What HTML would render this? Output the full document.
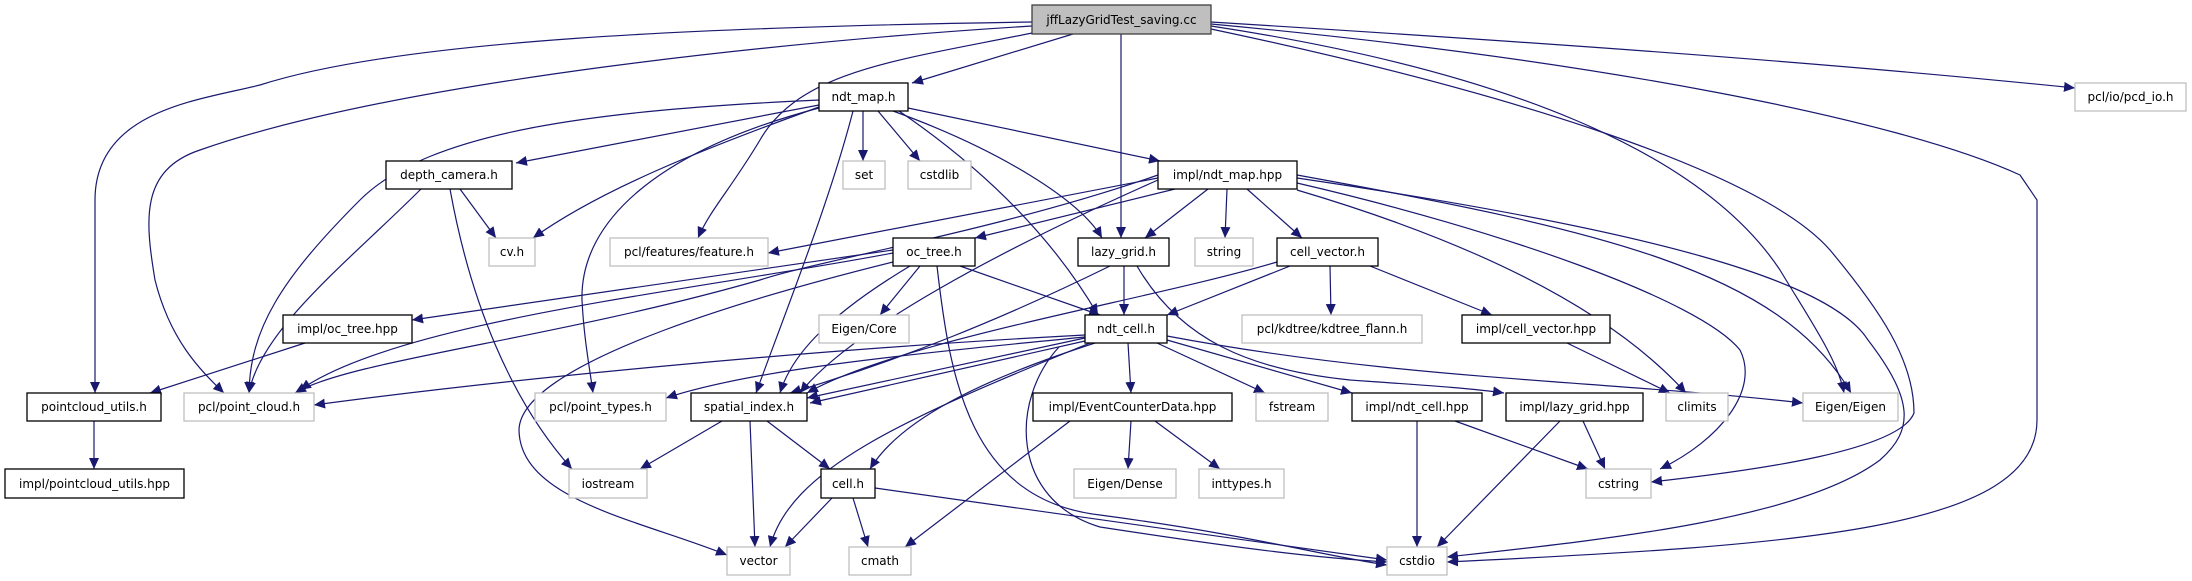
<!DOCTYPE html>
<html><head><meta charset="utf-8"><style>
html,body{margin:0;padding:0;background:#fff;}
svg{display:block;}
text{font-family:"DejaVu Sans","Liberation Sans",sans-serif;font-size:12px;fill:#000;}
.e{fill:none;stroke:#191970;stroke-width:1.2;marker-end:url(#a);}
.b{fill:#fff;stroke:#000;stroke-width:1.3;}
.g{fill:#fff;stroke:#bfbfbf;stroke-width:1.3;}
</style></head><body>
<svg width="2192" height="581" viewBox="0 0 2192 581" xmlns="http://www.w3.org/2000/svg">
<defs><marker id="a" markerUnits="userSpaceOnUse" markerWidth="12" markerHeight="10" refX="11" refY="5" orient="auto"><path d="M0,0 L11,5 L0,10 z" fill="#191970"/></marker></defs>
<g>
<!-- jff -->
<path class="e" d="M1032,22 C700,27 400,40 260,85 C200,100 95,110 95,200 L95,393"/>
<path class="e" d="M1032,26 C800,40 400,80 200,150 C140,170 145,220 155,280 C170,340 200,370 224,393"/>
<path class="e" d="M1032,33 C900,60 800,70 760,140 C730,190 710,210 698,238"/>
<path class="e" d="M1073,34 L912,83"/>
<path class="e" d="M1121,34 L1121,238"/>
<path class="e" d="M1211,22 C1500,40 1800,60 2075,88"/>
<path class="e" d="M1211,24 C1600,60 1900,120 2020,175 L2037,200 L2037,420 C2037,530 1800,545 1447,562"/>
<path class="e" d="M1211,26 C1500,70 1700,150 1780,270 C1810,320 1838,360 1844,393"/>
<path class="e" d="M1211,29 C1500,90 1760,170 1830,250 C1880,310 1914,360 1914,413 C1900,450 1760,470 1651,482"/>
<!-- ndt_map.h -->
<path class="e" d="M819,105 L516,163"/>
<path class="e" d="M819,107 C700,150 600,190 533,238"/>
<path class="e" d="M819,100 C600,110 430,130 360,200 C280,280 250,330 249,393"/>
<path class="e" d="M819,108 C660,150 580,220 582,300 C584,340 590,370 593,393"/>
<path class="e" d="M853,111 C830,200 790,300 756,393"/>
<path class="e" d="M863,111 L863,161"/>
<path class="e" d="M878,111 L920,161"/>
<path class="e" d="M893,111 C1000,150 1080,200 1102,238"/>
<path class="e" d="M899,111 C1000,180 1060,250 1098,315"/>
<path class="e" d="M908,108 L1160,161"/>
<!-- depth_camera.h -->
<path class="e" d="M460,189 L496,238"/>
<path class="e" d="M421,189 C350,260 260,330 249,393"/>
<path class="e" d="M450,189 C470,300 510,400 572,469"/>
<!-- impl/ndt_map.hpp -->
<path class="e" d="M1158,178 L768,253"/>
<path class="e" d="M1175,189 L975,238"/>
<path class="e" d="M1208,189 L1145,238"/>
<path class="e" d="M1227,189 L1225,238"/>
<path class="e" d="M1247,189 L1302,238"/>
<path class="e" d="M1158,175 C1000,230 820,260 760,280 C550,340 350,360 295,393"/>
<path class="e" d="M1158,180 C1000,250 850,330 800,393"/>
<path class="e" d="M1297,190 C1500,250 1620,320 1686,393"/>
<path class="e" d="M1297,183 C1500,230 1700,300 1740,350 C1760,390 1720,440 1660,469"/>
<path class="e" d="M1297,175 C1600,230 1780,270 1851,393"/>
<path class="e" d="M1297,178 C1650,230 1830,280 1868,340 C1914,400 1914,430 1880,460 C1800,520 1600,540 1447,557"/>
<!-- oc_tree.h -->
<path class="e" d="M893,250 L412,320"/>
<path class="e" d="M893,253 C700,290 400,320 300,390"/>
<path class="e" d="M893,262 C780,290 520,360 519,430 C520,500 640,520 727,555"/>
<path class="e" d="M920,266 L880,315"/>
<path class="e" d="M910,266 C820,320 790,360 780,393"/>
<path class="e" d="M960,266 L1100,315"/>
<path class="e" d="M937,266 C950,380 970,500 1100,515 C1250,535 1320,555 1387,565"/>
<!-- lazy_grid.h -->
<path class="e" d="M1124,266 L1124,315"/>
<path class="e" d="M1110,266 C1000,320 900,360 790,393"/>
<path class="e" d="M1137,266 C1180,340 1250,370 1350,380 C1420,385 1470,388 1504,393"/>
<!-- cell_vector.h -->
<path class="e" d="M1290,266 L1167,315"/>
<path class="e" d="M1277,262 C1150,300 900,340 807,393"/>
<path class="e" d="M1330,266 L1331,315"/>
<path class="e" d="M1370,266 L1492,315"/>
<!-- misc -->
<path class="e" d="M305,343 L150,393"/>
<path class="e" d="M94,421 L94,469"/>
<!-- ndt_cell.h -->
<path class="e" d="M1085,335 C800,350 500,380 314,405"/>
<path class="e" d="M1085,337 C900,355 750,370 666,398"/>
<path class="e" d="M1085,338 L807,398"/>
<path class="e" d="M1085,341 L810,403"/>
<path class="e" d="M1090,343 C900,420 790,470 770,547"/>
<path class="e" d="M1095,343 C980,380 900,420 870,469"/>
<path class="e" d="M1059,347 C1010,400 1010,500 1100,527 C1250,550 1320,558 1387,562"/>
<path class="e" d="M1128,343 L1131,393"/>
<path class="e" d="M1157,343 L1265,393"/>
<path class="e" d="M1167,340 L1352,393"/>
<path class="e" d="M1167,336 C1400,380 1600,380 1803,403"/>
<!-- spatial_index.h -->
<path class="e" d="M722,421 L640,469"/>
<path class="e" d="M750,421 L755,547"/>
<path class="e" d="M767,421 L830,469"/>
<!-- cell.h -->
<path class="e" d="M832,498 L785,547"/>
<path class="e" d="M853,498 L868,547"/>
<path class="e" d="M875,488 L1387,560"/>
<!-- others -->
<path class="e" d="M1070,421 L905,547"/>
<path class="e" d="M1131,421 L1128,469"/>
<path class="e" d="M1155,421 L1220,469"/>
<path class="e" d="M1417,421 L1417,547"/>
<path class="e" d="M1455,421 L1588,469"/>
<path class="e" d="M1560,421 L1437,547"/>
<path class="e" d="M1583,421 L1605,469"/>
<path class="e" d="M1567,343 L1670,393"/>
</g>
<g>
<rect x="1032" y="5" width="179" height="29" fill="#bfbfbf" stroke="#404040" stroke-width="1.3"/>
<text x="1121.5" y="24" text-anchor="middle">jffLazyGridTest_saving.cc</text>

<rect class="b" x="819" y="83" width="89" height="28"/><text x="863.5" y="101" text-anchor="middle">ndt_map.h</text>
<rect class="g" x="2075" y="83" width="111" height="28"/><text x="2130.5" y="101" text-anchor="middle">pcl/io/pcd_io.h</text>

<rect class="b" x="386" y="161" width="126" height="28"/><text x="449" y="179" text-anchor="middle">depth_camera.h</text>
<rect class="g" x="843" y="161" width="42" height="28"/><text x="864" y="179" text-anchor="middle">set</text>
<rect class="g" x="908" y="161" width="63" height="28"/><text x="939.5" y="179" text-anchor="middle">cstdlib</text>
<rect class="b" x="1158" y="161" width="139" height="28"/><text x="1227.5" y="179" text-anchor="middle">impl/ndt_map.hpp</text>

<rect class="g" x="489" y="238" width="46" height="28"/><text x="512" y="256" text-anchor="middle">cv.h</text>
<rect class="g" x="610" y="238" width="158" height="28"/><text x="689" y="256" text-anchor="middle">pcl/features/feature.h</text>
<rect class="b" x="893" y="238" width="82" height="28"/><text x="934" y="256" text-anchor="middle">oc_tree.h</text>
<rect class="b" x="1078" y="238" width="91" height="28"/><text x="1123.5" y="256" text-anchor="middle">lazy_grid.h</text>
<rect class="g" x="1195" y="238" width="58" height="28"/><text x="1224" y="256" text-anchor="middle">string</text>
<rect class="b" x="1277" y="238" width="101" height="28"/><text x="1327.5" y="256" text-anchor="middle">cell_vector.h</text>

<rect class="b" x="283" y="315" width="129" height="28"/><text x="347.5" y="333" text-anchor="middle">impl/oc_tree.hpp</text>
<rect class="g" x="819" y="315" width="90" height="28"/><text x="864" y="333" text-anchor="middle">Eigen/Core</text>
<rect class="b" x="1085" y="315" width="82" height="28"/><text x="1126" y="333" text-anchor="middle">ndt_cell.h</text>
<rect class="g" x="1242" y="315" width="180" height="28"/><text x="1332" y="333" text-anchor="middle">pcl/kdtree/kdtree_flann.h</text>
<rect class="b" x="1462" y="315" width="148" height="28"/><text x="1536" y="333" text-anchor="middle">impl/cell_vector.hpp</text>

<rect class="b" x="27" y="393" width="134" height="28"/><text x="94" y="411" text-anchor="middle">pointcloud_utils.h</text>
<rect class="g" x="184" y="393" width="130" height="28"/><text x="249" y="411" text-anchor="middle">pcl/point_cloud.h</text>
<rect class="g" x="535" y="393" width="131" height="28"/><text x="600.5" y="411" text-anchor="middle">pcl/point_types.h</text>
<rect class="b" x="691" y="393" width="116" height="28"/><text x="749" y="411" text-anchor="middle">spatial_index.h</text>
<rect class="b" x="1033" y="393" width="199" height="28"/><text x="1132.5" y="411" text-anchor="middle">impl/EventCounterData.hpp</text>
<rect class="g" x="1256" y="393" width="72" height="28"/><text x="1292" y="411" text-anchor="middle">fstream</text>
<rect class="b" x="1352" y="393" width="130" height="28"/><text x="1417" y="411" text-anchor="middle">impl/ndt_cell.hpp</text>
<rect class="b" x="1506" y="393" width="137" height="28"/><text x="1574.5" y="411" text-anchor="middle">impl/lazy_grid.hpp</text>
<rect class="g" x="1666" y="393" width="62" height="28"/><text x="1697" y="411" text-anchor="middle">climits</text>
<rect class="g" x="1803" y="393" width="95" height="28"/><text x="1850.5" y="411" text-anchor="middle">Eigen/Eigen</text>

<rect class="b" x="5" y="469" width="179" height="29"/><text x="94.5" y="488" text-anchor="middle">impl/pointcloud_utils.hpp</text>
<rect class="g" x="569" y="469" width="78" height="29"/><text x="608" y="488" text-anchor="middle">iostream</text>
<rect class="b" x="821" y="469" width="54" height="29"/><text x="848" y="488" text-anchor="middle">cell.h</text>
<rect class="g" x="1074" y="469" width="102" height="29"/><text x="1125" y="488" text-anchor="middle">Eigen/Dense</text>
<rect class="g" x="1199" y="469" width="85" height="29"/><text x="1241.5" y="488" text-anchor="middle">inttypes.h</text>
<rect class="g" x="1586" y="469" width="65" height="29"/><text x="1618.5" y="488" text-anchor="middle">cstring</text>

<rect class="g" x="727" y="547" width="63" height="28"/><text x="758.5" y="565" text-anchor="middle">vector</text>
<rect class="g" x="849" y="547" width="62" height="28"/><text x="880" y="565" text-anchor="middle">cmath</text>
<rect class="g" x="1387" y="547" width="60" height="28"/><text x="1417" y="565" text-anchor="middle">cstdio</text>
</g>
</svg>
</body></html>
